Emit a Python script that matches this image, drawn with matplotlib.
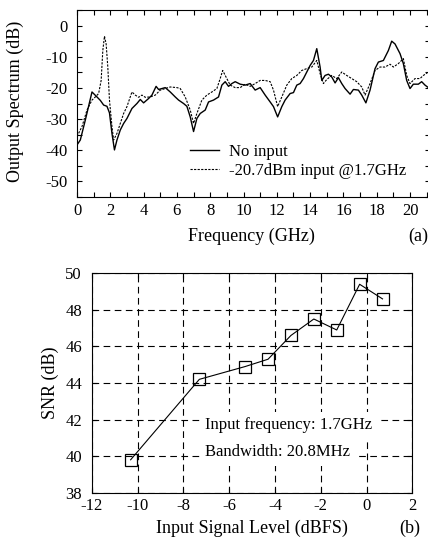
import matplotlib
matplotlib.use("Agg")
import matplotlib.pyplot as plt
from matplotlib.ticker import MultipleLocator

plt.rcParams['font.family'] = ['Liberation Serif', 'DejaVu Serif']
plt.rcParams['axes.unicode_minus'] = False

# (a) output spectrum, no input
f_none = [0.0, 0.2, 0.5, 0.9, 1.2, 1.4, 1.6, 1.8, 1.95, 2.1, 2.25, 2.4, 2.6, 2.8,
          3.0, 3.3, 3.6, 3.8, 4.0, 4.3, 4.5, 4.75, 4.9, 5.1, 5.3, 5.6, 5.9, 6.1,
          6.4, 6.6, 6.8, 7.0, 7.2, 7.4, 7.7, 7.9, 8.2, 8.5, 8.7, 8.9, 9.1, 9.3,
          9.5, 9.8, 10.1, 10.4, 10.7, 11.0, 11.3, 11.6, 11.8, 12.05, 12.3, 12.5,
          12.8, 13.0, 13.2, 13.4, 13.6, 13.8, 14.0, 14.2, 14.4, 14.6, 14.7, 14.9,
          15.1, 15.3, 15.5, 15.7, 15.9, 16.1, 16.4, 16.6, 16.9, 17.1, 17.35, 17.6,
          17.9, 18.1, 18.4, 18.7, 18.9, 19.1, 19.4, 19.6, 19.8, 20.0, 20.2, 20.5,
          20.7, 20.9, 21.1]
p_none = [-38.3, -36.7, -30.3, -21.3, -22.9, -24.0, -25.5, -25.9, -28.0, -34.6,
          -39.9, -36.7, -33.5, -31.4, -29.8, -26.6, -25.0, -23.7, -24.8, -23.4,
          -22.3, -19.5, -20.5, -20.2, -19.9, -21.3, -22.9, -23.9, -25.0, -25.9,
          -29.3, -34.0, -29.8, -28.2, -27.1, -24.5, -23.9, -22.9, -19.1, -18.0,
          -19.5, -18.6, -18.0, -18.8, -19.1, -18.6, -20.7, -19.9, -22.3, -24.5,
          -26.0, -29.3, -26.0, -23.9, -21.8, -21.5, -19.1, -18.6, -17.0, -14.9,
          -12.8, -11.2, -7.4, -13.3, -17.6, -16.0, -15.6, -16.5, -18.4, -16.7,
          -18.6, -20.2, -22.0, -20.5, -20.7, -22.3, -24.8, -20.7, -13.8, -11.7,
          -11.2, -8.0, -5.0, -5.9, -9.0, -12.2, -17.6, -20.2, -18.8, -18.8, -18.0,
          -19.1, -19.9]

# (a) output spectrum, -20.7 dBm input at 1.7 GHz
f_tone = [0.0, 0.3, 0.6, 0.9, 1.1, 1.3, 1.45, 1.55, 1.65, 1.75, 1.85, 1.95, 2.1,
          2.2, 2.4, 2.6, 2.8, 3.0, 3.3, 3.5, 3.7, 3.9, 4.1, 4.4, 4.7, 5.0, 5.3,
          5.6, 6.0, 6.2, 6.5, 6.8, 7.0, 7.2, 7.5, 7.8, 8.1, 8.4, 8.6, 8.75, 8.95,
          9.2, 9.5, 9.8, 10.1, 10.4, 10.7, 11.0, 11.3, 11.6, 11.8, 12.05, 12.3,
          12.6, 12.9, 13.2, 13.5, 13.8, 14.1, 14.4, 14.6, 14.8, 15.0, 15.3, 15.6,
          15.9, 16.2, 16.5, 16.8, 17.1, 17.3, 17.6, 17.9, 18.2, 18.5, 18.8, 19.0,
          19.3, 19.6, 19.8, 20.0, 20.3, 20.6, 20.8, 21.1]
p_tone = [-35.6, -32.4, -27.1, -23.9, -22.9, -21.8, -17.6, -8.0, -3.4, -5.9,
          -13.3, -23.9, -32.4, -36.7, -34.6, -31.4, -28.2, -26.0, -21.3, -22.3,
          -23.0, -22.3, -23.0, -22.9, -22.3, -20.7, -20.2, -19.7, -19.9, -20.2,
          -22.9, -27.1, -31.4, -28.2, -23.9, -22.3, -21.3, -20.2, -17.0, -14.4,
          -16.5, -19.1, -19.9, -19.9, -18.8, -19.5, -18.6, -17.6, -17.6, -18.0,
          -20.7, -26.0, -22.9, -19.1, -17.0, -16.0, -14.4, -13.8, -13.3, -11.2,
          -15.4, -18.6, -17.3, -16.0, -17.0, -14.9, -16.0, -17.0, -18.0, -19.7,
          -22.3, -18.6, -14.4, -13.3, -13.3, -12.4, -13.3, -12.2, -10.6, -16.0,
          -18.6, -17.0, -17.0, -16.0, -14.9]

# (b) SNR vs input level
level = [-10.3, -7.3, -5.3, -4.3, -3.3, -2.3, -1.3, -0.3, 0.7]
snr = [39.8, 44.2, 44.9, 45.3, 46.6, 47.5, 46.9, 49.4, 48.6]

W, H = 428, 542
fig = plt.figure(figsize=(W / 100, H / 100), dpi=100)

# top panel
x0, x1, y0, y1 = 77, 430, 10, 197
ax1 = fig.add_axes([x0 / W, 1 - y1 / H, (x1 - x0) / W, (y1 - y0) / H])
ax1.plot(f_none, p_none, color='k', lw=1.0, label='No input')
ax1.plot(f_tone, p_tone, color='k', lw=0.8, linestyle=(0, (2, 1.2)),
         label='-20.7dBm input @1.7GHz')
ax1.set_xlim(0, 21.2)
ax1.set_ylim(-55, 5)
ax1.xaxis.set_major_locator(MultipleLocator(2))
ax1.xaxis.set_minor_locator(MultipleLocator(1))
ax1.yaxis.set_major_locator(MultipleLocator(10))
ax1.yaxis.set_minor_locator(MultipleLocator(5))
ax1.tick_params(which='both', direction='in', top=True, right=True,
                length=3.5, width=0.8, labelsize=12)
ax1.tick_params(axis='x', pad=4)
ax1.tick_params(axis='y', pad=7)
ax1.set_xlabel('Frequency (GHz)', fontsize=13, va='center')
ax1.xaxis.set_label_coords((251 - x0) / (x1 - x0), (y1 - 236) / (y1 - y0))
ax1.set_ylabel('Output Spectrum (dB)', fontsize=13, va='center')
ax1.yaxis.set_label_coords((15 - x0) / (x1 - x0), 0.51)
ax1.legend(loc='upper left', bbox_to_anchor=((190 - x0) / (x1 - x0), (y1 - 144) / (y1 - y0)),
           frameon=False, fontsize=12, handlelength=1.75, handletextpad=0.6,
           labelspacing=0.15, borderaxespad=0, borderpad=0)
fig.text(418 / W, 1 - 236 / H, '(a)', fontsize=13, ha='center', va='center')

# bottom panel
bx0, bx1, by0, by1 = 91.7, 412.3, 273.3, 492.7
ax2 = fig.add_axes([bx0 / W, 1 - by1 / H, (bx1 - bx0) / W, (by1 - by0) / H])
ax2.plot(level, snr, color='k', lw=0.8, marker='s', markersize=9,
         markerfacecolor='none', markeredgecolor='k', markeredgewidth=0.9, zorder=4)
ax2.set_xlim(-12, 2)
ax2.set_ylim(38, 50)
ax2.xaxis.set_major_locator(MultipleLocator(2))
ax2.yaxis.set_major_locator(MultipleLocator(2))
ax2.grid(True, color='k', lw=0.8, linestyle=(0, (6, 4)))
ax2.tick_params(direction='in', top=True, right=True, length=3.5, width=0.8,
                labelsize=12)
ax2.tick_params(axis='x', pad=4)
ax2.tick_params(axis='y', pad=7)
ax2.set_xlabel('Input Signal Level (dBFS)', fontsize=13, va='center')
ax2.xaxis.set_label_coords(0.5, (by1 - 528) / (by1 - by0))
ax2.set_ylabel('SNR (dB)', fontsize=13, va='center')
ax2.yaxis.set_label_coords((50 - bx0) / (bx1 - bx0), 0.5)
box = dict(facecolor='white', edgecolor='none', pad=4)
ax2.text(205 / W, 1 - 425 / H, 'Input frequency: 1.7GHz', fontsize=12,
         va='center', ha='left', transform=fig.transFigure, bbox=box, zorder=3)
ax2.text(205 / W, 1 - 452 / H, 'Bandwidth: 20.8MHz', fontsize=12,
         va='center', ha='left', transform=fig.transFigure, bbox=box, zorder=3)
fig.text(410 / W, 1 - 528 / H, '(b)', fontsize=13, ha='center', va='center')

fig.savefig('out.png', dpi=100)
